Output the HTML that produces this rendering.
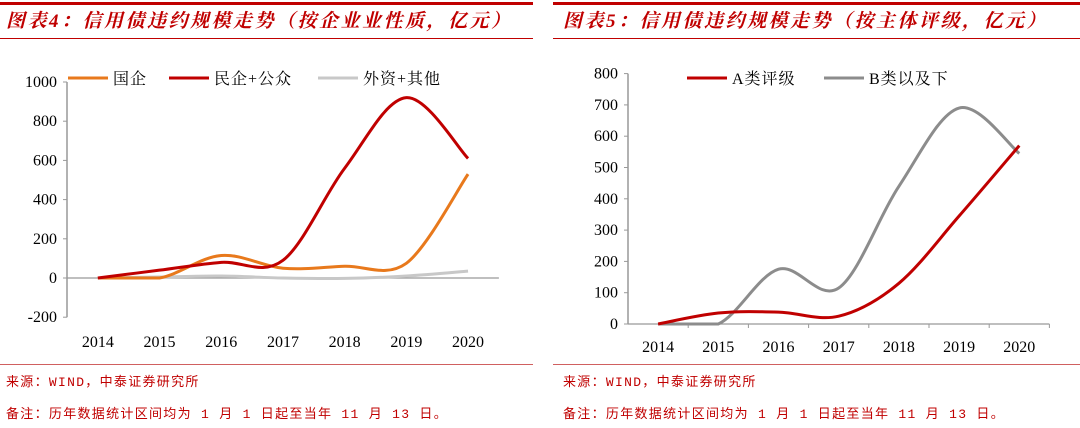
<!DOCTYPE html>
<html><head><meta charset="utf-8">
<style>
body{margin:0;width:1080px;height:428px;background:#fff;overflow:hidden;font-family:"Liberation Serif","Noto Serif CJK SC",serif;}
svg{position:absolute;left:0;top:0}
.t{font-family:"Liberation Serif","Noto Serif CJK SC",serif;font-style:italic;font-weight:bold;fill:#c00000;font-size:19px;letter-spacing:2.5px}
.s{font-family:"Liberation Mono","Noto Sans CJK SC",monospace;fill:#c00000;font-size:13px;letter-spacing:1.3px}
.tk{font-size:16px;fill:#000;font-family:"Liberation Serif",serif}
.lg{font-size:16px;fill:#000;font-family:"Liberation Serif","Noto Serif CJK SC",serif;letter-spacing:1px}
</style></head><body>
<svg width="1080" height="428" id="svg">
<g>
<rect x="0" y="2" width="533" height="3" fill="#c00000"/>
<text class="t" x="6" y="27">图表4：信用债违约规模走势（按企业业性质，亿元）</text>
<rect x="0" y="38" width="533" height="1" fill="#c00000"/>
<rect x="0" y="364" width="533" height="1" fill="#d06060"/>
<text class="s" x="6" y="386">来源：WIND，中泰证券研究所</text>
<text class="s" x="6" y="418">备注：历年数据统计区间均为 1 月 1 日起至当年 11 月 13 日。</text>
</g>
<g>
<rect x="553" y="2" width="527" height="3" fill="#c00000"/>
<text class="t" x="563" y="27">图表5：信用债违约规模走势（按主体评级，亿元）</text>
<rect x="553" y="38" width="527" height="1" fill="#c00000"/>
<rect x="553" y="364" width="527" height="1" fill="#d06060"/>
<text class="s" x="563" y="386">来源：WIND，中泰证券研究所</text>
<text class="s" x="563" y="418">备注：历年数据统计区间均为 1 月 1 日起至当年 11 月 13 日。</text>
</g>
<g id="left"></g>
<g id="right"></g>
</svg>
<script>
const categories=["2014","2015","2016","2017","2018","2019","2020"];
const leftTicks=[-200,0,200,400,600,800,1000];
const soe=[0,0,115,50,60,75,530];
const privatePub=[0,40,80,90,560,920,610];
const foreignOther=[0,5,10,0,-2,10,35];
const rightTicks=[0,100,200,300,400,500,600,700,800];
const ratingA=[0,35,38,25,130,345,570];
const ratingB=[0,0,175,115,440,690,545];
const NS="http://www.w3.org/2000/svg";
function mk(p,tag,at){const e=document.createElementNS(NS,tag);for(const k in at)e.setAttribute(k,at[k]);p.appendChild(e);return e;}
function spline(pts,floor){let d="M"+pts[0][0]+","+pts[0][1];const cl=v=>floor===undefined?v:Math.min(v,floor);
for(let i=0;i<pts.length-1;i++){const p0=pts[i-1]||pts[i],p1=pts[i],p2=pts[i+1],p3=pts[i+2]||p2;
const c1=[p1[0]+(p2[0]-p0[0])/6,cl(p1[1]+(p2[1]-p0[1])/6)],c2=[p2[0]-(p3[0]-p1[0])/6,cl(p2[1]-(p3[1]-p1[1])/6)];
d+=" C"+c1+" "+c2+" "+p2;}return d;}
function chart(g,o){
 const x=i=>o.x0+o.bw*(i+0.5);const y=v=>o.yz-(v/o.step)*o.stepPx;
 const ax=mk(g,"line",{x1:o.x0,y1:y(o.ticks[o.ticks.length-1]),x2:o.x0,y2:y(o.ticks[0]),stroke:"#999","stroke-width":1.5});
 
 
 const xa=mk(g,"line",{x1:o.x0,y1:o.yz,x2:o.x0+o.bw*7,y2:o.yz,stroke:"#999","stroke-width":1.2});
 
 
 o.ticks.forEach(v=>{mk(g,"line",{x1:o.x0-4,y1:y(v),x2:o.x0,y2:y(v),stroke:"#999"});
  const t=mk(g,"text",{x:o.x0-10,y:y(v)+5,"text-anchor":"end",class:"tk"});t.textContent=v;
  
  });
 categories.forEach((c,i)=>{if(o.xticks)mk(g,"line",{x1:o.x0+o.bw*(i+1),y1:o.yz,x2:o.x0+o.bw*(i+1),y2:o.yz+4,stroke:"#999"});
  const t=mk(g,"text",{x:x(i),y:o.xly,"text-anchor":"middle",class:"tk"});t.textContent=c;
  
  });
 o.series.forEach(s=>{const p=mk(g,"path",{d:spline(s.v.map((v,i)=>[x(i),y(v)]),s.floor?o.yz:undefined),fill:"none",stroke:s.c,"stroke-width":3});
  
  
  mk(g,"line",{x1:s.lx,y1:o.ly,x2:s.lx+40,y2:o.ly,stroke:s.c,"stroke-width":3});
  const t=mk(g,"text",{x:s.lx+45,y:o.ly+6,class:"lg"});t.textContent=s.n;
  
  });
}
chart(document.getElementById("left"),{x0:67,bw:61.7,yz:278,step:200,stepPx:39.2,ticks:leftTicks,xly:347,ly:78,xticks:false,
 series:[{v:foreignOther,c:"#c8c8c8",n:"外资+其他",lx:318},{v:soe,c:"#e8791c",n:"国企",lx:68,floor:true},{v:privatePub,c:"#c00000",n:"民企+公众",lx:169,floor:true}]});
chart(document.getElementById("right"),{x0:628,bw:60.2,yz:324,step:100,stepPx:31.3,ticks:rightTicks,xly:352,ly:78,xticks:true,
 series:[{v:ratingB,c:"#8c8c8c",n:"B类以及下",lx:824,floor:true},{v:ratingA,c:"#c00000",n:"A类评级",lx:687,floor:true}]});
</script>
</body></html>
